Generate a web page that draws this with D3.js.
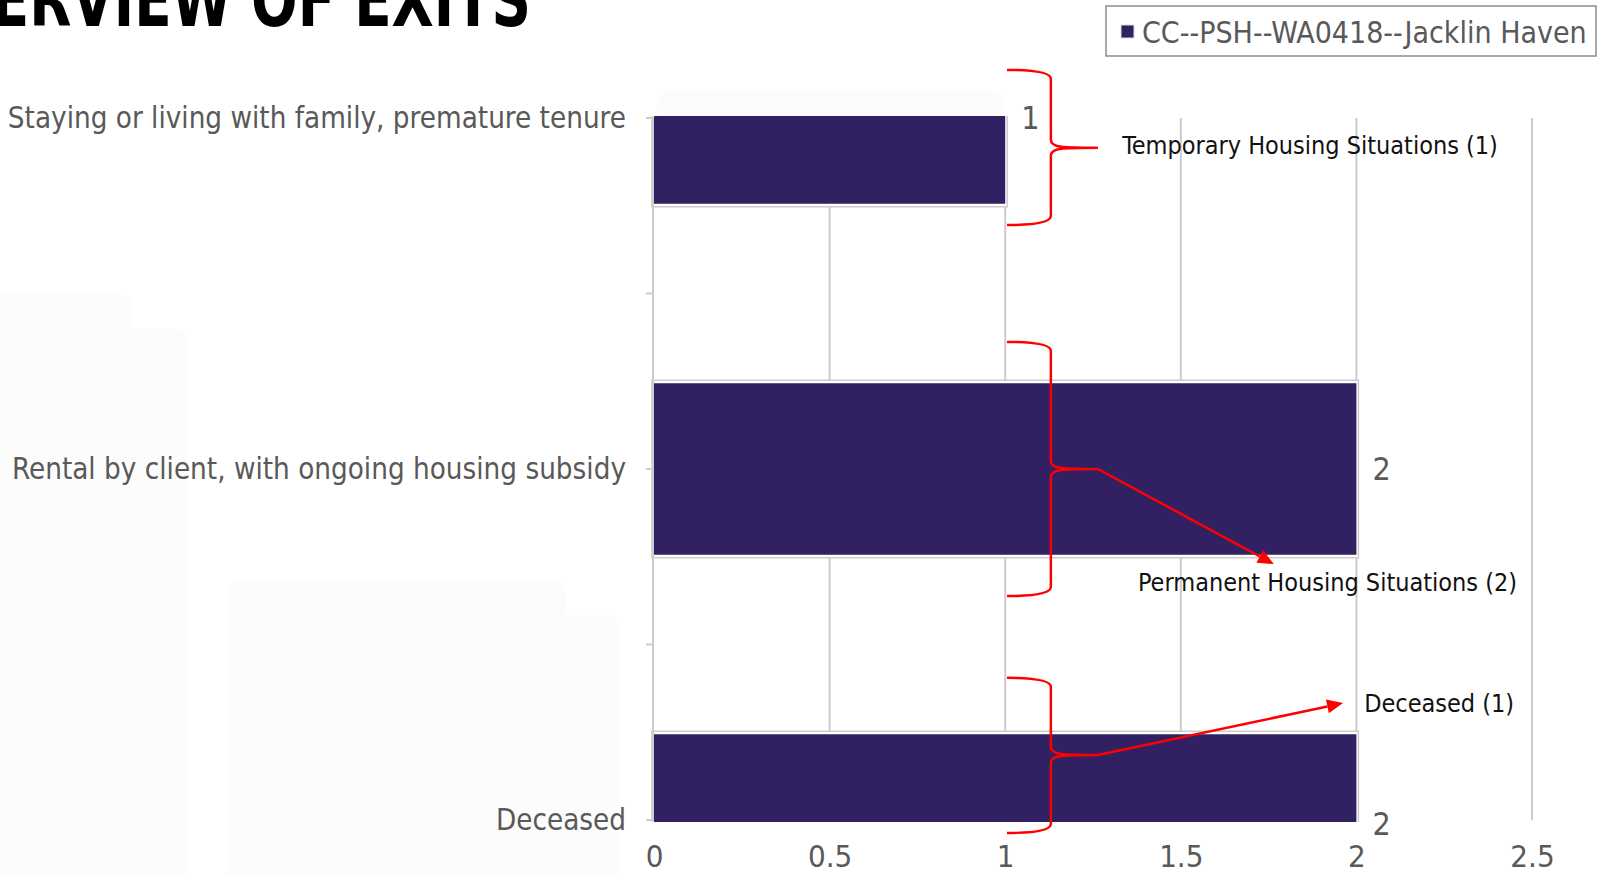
<!DOCTYPE html>
<html>
<head>
<meta charset="utf-8">
<script src="https://cdn.jsdelivr.net/npm/d3@7"></script>
<style>
  html, body { margin: 0; padding: 0; background: #ffffff; overflow: hidden; }
  svg { display: block; }
  text { font-family: "Liberation Sans Narrow", "DejaVu Sans Condensed", sans-serif; }
</style>
</head>
<body>
<div id="chart"></div>
<script>
// Daten
const categories = [
    "Staying or living with family, premature tenure",
    "Rental by client, with ongoing housing subsidy",
    "Deceased"
];
const values = [1, 2, 2];
const seriesName = "CC--PSH--WA0418--Jacklin Haven";
const xTicks = [0, 0.5, 1, 1.5, 2, 2.5];

// Anmerkungen: x in Wert-Einheiten, y in Kategorie-Index
const braceLabels = ["Temporary Housing Situations (1)", "Permanent Housing Situations (2)", "Deceased (1)"];
const braceTop = [-0.137, 0.638, 1.595];
const braceMid = [0.085, 1.0, 1.815];
const braceBottom = [0.305, 1.362, 2.037];
const arrowEndX = [null, 1.765, 1.962];
const arrowEndY = [null, 1.271, 1.667];
const labelX = [1.333, 1.378, 2.022];
const labelY = [0.077, 1.322, 1.667];

const width = 1598, height = 875;
const barColor = "#312162";
const textGray = "#595959";
const gridGray = "#cccccc";

const svg = d3.select("#chart")
    .append("svg")
    .attr("width", width)
    .attr("height", height);

svg.append("rect").attr("width", width).attr("height", height).attr("fill", "#ffffff");

// blasse Hintergrundflächen der Folie
const bgShapes = [
    "M0,294 L118,294 Q133,294 133,309 L133,328 L172,328 Q187,328 187,343 L187,875 L0,875 Z",
    "M242,581 L551,581 Q566,581 566,596 L566,615 L604,615 Q619,615 619,630 L619,875 L227,875 L227,596 Q227,581 242,581 Z",
    "M672,90 L990,90 Q1005,90 1005,105 L1005,120 L657,120 L657,105 Q657,90 672,90 Z"
];
svg.append("g").selectAll("path")
    .data(bgShapes)
    .enter().append("path")
    .attr("d", d => d)
    .style("fill", "#fcfcfc");

// Skalen
const x = d3.scaleLinear().domain([0, 2.5]).range([654, 1532]);
const y = d3.scalePoint().domain(categories).range([118, 820]);
const yi = d3.scaleLinear().domain([0, categories.length - 1]).range([118, 820]);
const step = y.step();
const barH = step / 2;
const plotTop = 118, plotBottom = 820;

// Titel (links abgeschnitten)
svg.append("g")
    .attr("transform", "translate(531,26) scale(1.05,1.3)")
    .append("text")
    .attr("text-anchor", "end")
    .style("font-size", "58px")
    .style("font-weight", "bold")
    .style("fill", "#000")
    .text("OVERVIEW OF EXITS");

// Gitterlinien
svg.append("g").selectAll("line")
    .data(xTicks.slice(1))
    .enter().append("line")
    .attr("x1", d => x(d)).attr("x2", d => x(d))
    .attr("y1", plotTop).attr("y2", plotBottom)
    .style("stroke", gridGray)
    .style("stroke-width", 2);

// Balken (auf Plotbereich beschnitten)
svg.append("clipPath").attr("id", "plotclip")
    .append("rect")
    .attr("x", x(0) - 10).attr("y", plotTop - 2)
    .attr("width", x(2.5) - x(0) + 20).attr("height", plotBottom - plotTop + 4);

const bars = svg.append("g").attr("clip-path", "url(#plotclip)");
bars.selectAll(".bar-outline")
    .data(categories)
    .enter().append("rect")
    .attr("class", "bar-outline")
    .attr("x", x(0) - 2)
    .attr("y", d => y(d) - barH / 2 - 1)
    .attr("width", (d, i) => x(values[i]) - x(0) + 4)
    .attr("height", barH + 2)
    .style("fill", "#ffffff")
    .style("stroke", gridGray)
    .style("stroke-width", 1.5);

bars.selectAll(".bar")
    .data(categories)
    .enter().append("rect")
    .attr("class", "bar")
    .attr("x", x(0))
    .attr("y", d => y(d) - barH / 2 + 2)
    .attr("width", (d, i) => x(values[i]) - x(0))
    .attr("height", barH - 4)
    .style("fill", barColor);

// Y-Achse
svg.append("line")
    .attr("x1", x(0) - 1).attr("x2", x(0) - 1)
    .attr("y1", plotTop).attr("y2", plotBottom)
    .style("stroke", gridGray).style("stroke-width", 2);

const tickPos = d3.range(0, categories.length - 0.5, 0.5);
svg.append("g").selectAll("line")
    .data(tickPos)
    .enter().append("line")
    .attr("x1", x(0) - 8).attr("x2", x(0))
    .attr("y1", d => yi(d)).attr("y2", d => yi(d))
    .style("stroke", gridGray).style("stroke-width", 2);

svg.append("g").selectAll("text")
    .data(categories)
    .enter().append("text")
    .attr("x", 626)
    .attr("y", d => y(d))
    .attr("dy", "0.35em")
    .attr("text-anchor", "end")
    .style("font-size", "29.3px")
    .style("fill", textGray)
    .text(d => d);

// X-Achse Beschriftung
const xAxis = svg.append("g")
    .attr("transform", `translate(0,${plotBottom + 14})`)
    .call(d3.axisBottom(x).tickValues(xTicks).tickSize(0).tickPadding(11).tickFormat(d3.format("")));
xAxis.select(".domain").remove();
xAxis.selectAll("text")
    .style("font-family", "'Liberation Sans Narrow', 'DejaVu Sans Condensed', sans-serif")
    .style("font-size", "31px")
    .style("fill", textGray);

// Datenbeschriftung
svg.append("g").selectAll("text")
    .data(categories)
    .enter().append("text")
    .attr("x", (d, i) => x(values[i]) + 16)
    .attr("y", (d, i) => y(d) + (i === categories.length - 1 ? 4 : 0))
    .attr("dy", "0.35em")
    .style("font-size", "32px")
    .style("fill", textGray)
    .text((d, i) => values[i]);

// Legende
const legend = svg.append("g");
legend.append("rect")
    .attr("x", 1106).attr("y", 6)
    .attr("width", 490).attr("height", 50)
    .style("fill", "#ffffff")
    .style("stroke", "#8c8c8c")
    .style("stroke-width", 1.5);
legend.append("rect")
    .attr("x", 1121).attr("y", 25)
    .attr("width", 13).attr("height", 13)
    .style("fill", barColor)
    .style("stroke", "#dddddd")
    .style("stroke-width", 1);
legend.append("text")
    .attr("x", 1142).attr("y", 32)
    .attr("dy", "0.35em")
    .style("font-size", "30px")
    .style("fill", textGray)
    .text(seriesName);

// Rote Klammern und Pfeile
const brace = svg.append("g");
braceLabels.forEach((lab, i) => {
    const left = x(1.005), vx = x(1.13), tip = x(1.264);
    const t = yi(braceTop[i]), m = yi(braceMid[i]), b = yi(braceBottom[i]);
    const p = d3.path();
    p.moveTo(left, t);
    p.quadraticCurveTo(vx, t, vx, t + 9);
    p.lineTo(vx, m - 8);
    p.bezierCurveTo(vx, m, vx + 12, m, tip, m);
    p.moveTo(tip, m);
    p.bezierCurveTo(vx + 12, m, vx, m, vx, m + 8);
    p.lineTo(vx, b - 9);
    p.quadraticCurveTo(vx, b, left, b);
    brace.append("path")
        .attr("d", p.toString())
        .style("fill", "none")
        .style("stroke", "#ff0000")
        .style("stroke-width", 2.5);

    if (arrowEndX[i] !== null) {
        const x2 = x(arrowEndX[i]), y2 = yi(arrowEndY[i]);
        const ang = Math.atan2(y2 - m, x2 - tip);
        const len = 16, half = 7;
        const bx = x2 - len * Math.cos(ang), by = y2 - len * Math.sin(ang);
        brace.append("line")
            .attr("x1", tip).attr("y1", m)
            .attr("x2", bx).attr("y2", by)
            .style("stroke", "#ff0000")
            .style("stroke-width", 2.5);
        brace.append("path")
            .attr("d", `M${x2},${y2}L${bx - half * Math.sin(ang)},${by + half * Math.cos(ang)}L${bx + half * Math.sin(ang)},${by - half * Math.cos(ang)}Z`)
            .style("fill", "#ff0000");
    }

    svg.append("text")
        .attr("x", x(labelX[i]))
        .attr("y", yi(labelY[i]))
        .attr("dy", "0.35em")
        .style("font-size", "25px")
        .style("fill", "#111111")
        .text(lab);
});
</script>
</body>
</html>
